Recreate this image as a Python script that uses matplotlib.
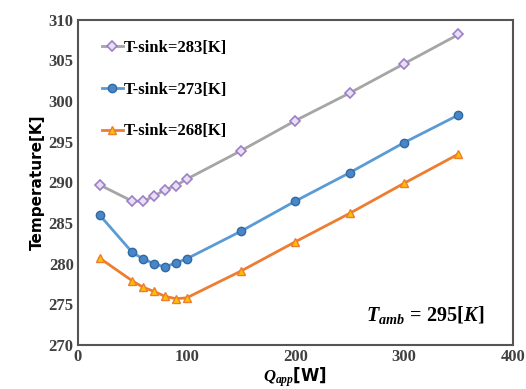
import matplotlib
matplotlib.use("Agg")
import matplotlib.pyplot as plt

# heat load [W] and temperatures [K]
q_app = [20, 50, 60, 70, 80, 90, 100, 150, 200, 250, 300, 350]
t_283 = [289.7, 287.7, 287.7, 288.3, 289.1, 289.6, 290.4, 293.9, 297.6, 301.0, 304.6, 308.2]
t_273 = [286.0, 281.4, 280.6, 280.0, 279.6, 280.1, 280.6, 284.0, 287.7, 291.2, 294.9, 298.3]
t_268 = [280.7, 277.9, 277.1, 276.6, 276.0, 275.7, 275.8, 279.1, 282.7, 286.2, 289.9, 293.5]

plt.rcParams["mathtext.fontset"] = "custom"
plt.rcParams["mathtext.it"] = "Liberation Serif:italic:bold"
plt.rcParams["mathtext.rm"] = "Liberation Serif:bold"
plt.rcParams["mathtext.bf"] = "Liberation Serif:bold"

fig = plt.figure(figsize=(5.26, 3.89), dpi=100)
ax = fig.add_axes([0.148, 0.113, 0.827, 0.836])

ax.plot(q_app, t_283, "-D", color="#A5A5A5", lw=2, ms=5.5,
        mfc="#E8E0F2", mec="#9C7FC8", mew=1.2, label="T-sink=283[K]")
ax.plot(q_app, t_273, "-o", color="#5B9BD5", lw=2, ms=6,
        mfc="#4A86C5", mec="#2F6AA6", mew=1, label="T-sink=273[K]")
ax.plot(q_app, t_268, "-^", color="#ED7D31", lw=2, ms=6,
        mfc="#FFC000", mec="#ED7D31", mew=1, label="T-sink=268[K]")

ax.set_xlim(0, 400)
ax.set_ylim(270, 310)
ax.set_xticks(range(0, 401, 100))
ax.set_yticks(range(270, 311, 5))
ax.tick_params(length=0, pad=3)
for lbl in ax.get_xticklabels() + ax.get_yticklabels():
    lbl.set_fontfamily("Liberation Serif")
    lbl.set_fontweight("bold")
    lbl.set_fontsize(12)
    lbl.set_color("#404040")
for s in ax.spines.values():
    s.set_color("#555555")
    s.set_linewidth(1.5)

ax.set_ylabel("Temperature[K]", fontsize=11, fontweight="bold", labelpad=3)
ax.set_xlabel(r"$Q_{app}$[W]", fontsize=12, fontweight="bold", labelpad=0)

ax.legend(loc="upper left", bbox_to_anchor=(0.02, 0.985), frameon=False,
          labelspacing=1.55, handlelength=1.3, handletextpad=0.05,
          prop={"family": "Liberation Serif", "weight": "bold", "size": 12})

ax.text(0.935, 0.092, r"$T_{amb}\,=\,295[K]$", transform=ax.transAxes,
        ha="right", va="center", fontsize=14.5)

fig.savefig("out.png", dpi=100)
